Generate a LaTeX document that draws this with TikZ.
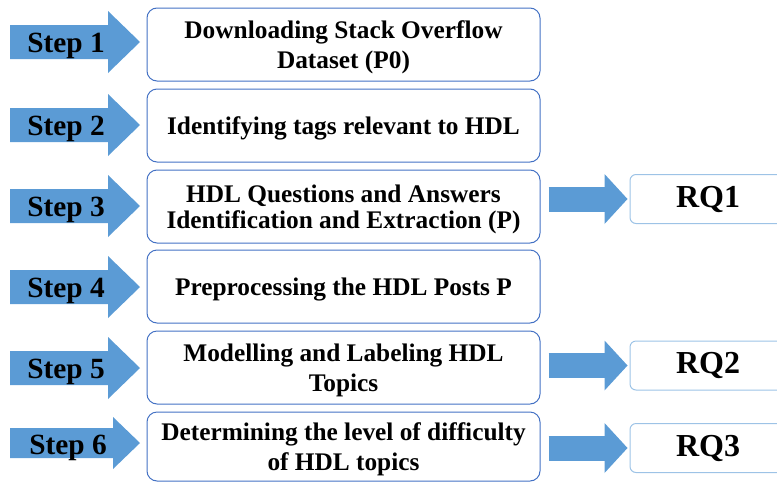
\documentclass[tikz,border=0pt]{standalone}
\usepackage{fontspec}
\setmainfont{Liberation Serif}
\usepackage{xcolor}
\usetikzlibrary{positioning,calc,arrows.meta}

\definecolor{arrowblue}{RGB}{91,155,213}
\definecolor{boxblue}{RGB}{68,114,196}
\definecolor{rqblue}{RGB}{157,195,230}

\tikzset{
    stepbox/.style={draw=boxblue, line width=0.75pt, rounded corners=7.5pt,
        minimum width=294.75pt, minimum height=54.75pt, align=center, text depth=0pt,
        font=\fontsize{19}{22.5}\selectfont\bfseries},
    rqbox/.style={draw=rqblue, line width=0.75pt, rounded corners=4.5pt,
        minimum width=117pt, minimum height=36.75pt,
        font=\fontsize{24}{26}\selectfont\bfseries},
    steptext/.style={font=\fontsize{22}{24}\selectfont\bfseries, inner sep=0pt, anchor=base},
    rqarrow/.style={draw=arrowblue, line width=18.75pt,
        -{Triangle[length=17.25pt, width=37.5pt, line width=0pt]},
        shorten <=6pt, shorten >=1.5pt}
}

\begin{document}
\begin{tikzpicture}[x=0.75pt, y=-0.75pt]
    \useasboundingbox (0,0) rectangle (777,482);
    \clip (0,0) rectangle (777,482);

    % Step arrows
    \foreach \yc/\n in {42/1, 125/2, 206/3, 287/4, 368/5}{
        \fill[arrowblue] (10,\yc-17) -- (108,\yc-17) -- (108,\yc-31) -- (140,\yc)
            -- (108,\yc+31) -- (108,\yc+17) -- (10,\yc+17) -- cycle;
        \node[steptext] (step\n) at (66,\yc+10.5) {Step \n};
    }
    \fill[arrowblue] (10,428) -- (113,428) -- (113,417) -- (140,443)
        -- (113,469) -- (113,458) -- (10,458) -- cycle;
    \node[steptext] (step6) at (68,454) {Step 6};

    % Process boxes
    \node[stepbox] (box1) at (343.5,44.5) {Downloading Stack Overflow\\Dataset (P0)};
    \node[stepbox] (box2) at (343.5,125.5) {Identifying tags relevant to HDL};
    \node[stepbox, font=\fontsize{19}{19.5}\selectfont\bfseries] (box3) at (343.5,206.5) {HDL Questions and Answers\\Identification and Extraction (P)};
    \node[stepbox] (box4) at (343.5,286.5) {Preprocessing the HDL Posts P};
    \node[stepbox] (box5) at (343.5,367.5) {Modelling and Labeling HDL\\Topics};
    \node[stepbox, minimum height=51.75pt] (box6) at (343.5,446.5) {Determining the level of difficulty\\of HDL topics};

    % Research questions
    \node[rqbox] (rq1) at (708,199) {RQ1};
    \node[rqbox] (rq2) at (708,365.5) {RQ2};
    \node[rqbox] (rq3) at (708,448) {RQ3};

    \draw[rqarrow] (box3.east |- rq1.west) -- (rq1.west);
    \draw[rqarrow] (box5.east |- rq2.west) -- (rq2.west);
    \draw[rqarrow] (box6.east |- rq3.west) -- (rq3.west);
\end{tikzpicture}
\end{document}
